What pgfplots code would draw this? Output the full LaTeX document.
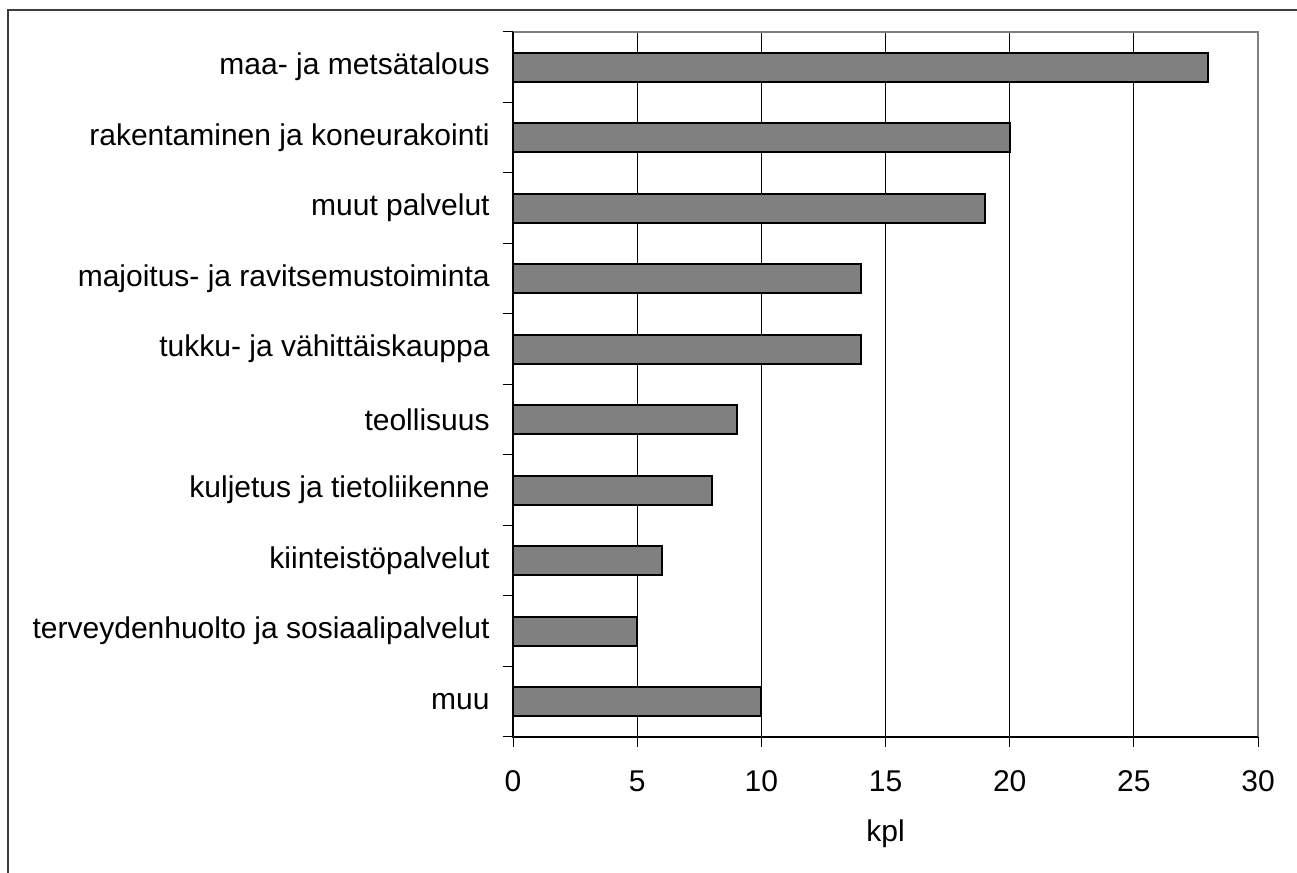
\documentclass[border=0pt]{standalone}
\usepackage{pgfplots}
\pgfplotsset{compat=1.18}
\usepackage{fontspec}
\setmainfont{Liberation Sans}
\definecolor{bargray}{HTML}{808080}
\definecolor{framegray}{HTML}{3C3C3C}
\begin{document}
\fontsize{15bp}{17bp}\selectfont
\begin{tikzpicture}[x=1bp,y=1bp]
\useasboundingbox (0,0) rectangle (648.5,436.5);
\draw[line width=1bp, color=framegray] (4,0) -- (4,431.5) -- (648.5,431.5);
\begin{axis}[
  at={(256.5bp,68bp)}, anchor=south west,
  scale only axis, width=372.5bp, height=352.5bp,
  xbar, bar width=14.5bp, bar shift=0pt,
  xmin=0, xmax=30, ymin=-0.5, ymax=9.5,
  xtick={0,5,...,30},
  ytick={0,...,9},
  yticklabels={muu,terveydenhuolto ja sosiaalipalvelut,kiinteistöpalvelut,kuljetus ja tietoliikenne,teollisuus,tukku- ja vähittäiskauppa,majoitus- ja ravitsemustoiminta,muut palvelut,rakentaminen ja koneurakointi,maa- ja metsätalous},
  minor ytick={-0.5,0.5,...,9.5},
  major y tick style={draw=none},
  tick align=outside,
  xtick pos=lower, ytick pos=left,
  major tick length=5bp, minor tick length=5bp,
  tick style={black, line width=0.5bp},
  xmajorgrids, ymajorgrids=false, yminorgrids=false,
  grid style={black, line width=0.5bp},
  axis line style={draw=none},
  /pgf/number format/assume math mode=true,
  xticklabel style={anchor=base, inner sep=0pt, yshift=-22.5bp},
  yticklabel style={anchor=east, inner sep=0pt, xshift=-6.5bp},
  xlabel={kpl},
  xlabel style={at={(axis description cs:0.5,0)}, anchor=base, yshift=-52.5bp, inner sep=0pt},
  clip=false,
]
\addplot[fill=bargray, draw=black, line width=1bp] coordinates {
(10,0) (5,1) (6,2) (8,3) (9,4) (14,5) (14,6) (19,7) (20,8) (28,9)
};
\draw[bargray, line width=1bp] (rel axis cs:0,1) -- (rel axis cs:1,1) -- (rel axis cs:1,0);
\draw[black, line width=0.8bp] (rel axis cs:0,1) -- (rel axis cs:0,0) -- (rel axis cs:1,0);
\end{axis}
\end{tikzpicture}
\end{document}
